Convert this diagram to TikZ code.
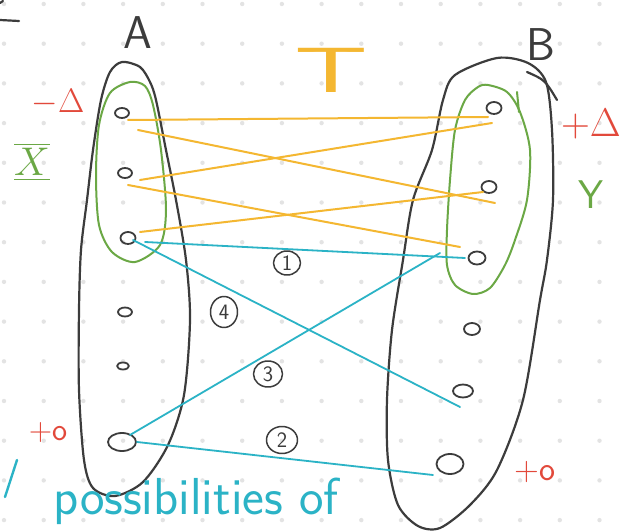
\RequirePackage{fix-cm}
\documentclass[tikz,border=0pt]{standalone}
\usepackage{amsmath}
\usetikzlibrary{shapes.geometric, calc}

\definecolor{inkblack}{HTML}{3C3C3C}
\definecolor{inkorange}{HTML}{F4B731}
\definecolor{inkcyan}{HTML}{2BB3C6}
\definecolor{inkgreen}{HTML}{6BA845}
\definecolor{inkred}{HTML}{E2493B}
\definecolor{griddot}{HTML}{E3E3E3}

\begin{document}
\begin{tikzpicture}[
    x=1pt, y=-1pt,
    line cap=round, line join=round,
    elem/.style   ={ellipse, draw=inkblack, line width=1.8pt, inner sep=0pt, minimum width=14pt, minimum height=10pt},
    num/.style    ={ellipse, draw=inkblack, line width=1.5pt, inner sep=0pt, text=inkblack, font=\sffamily\fontsize{22}{22}\selectfont},
    setline/.style={draw=inkblack, line width=2.2pt},
    subset/.style ={draw=inkgreen, line width=2pt},
    tmap/.style   ={draw=inkorange, line width=2pt},
    fmap/.style   ={draw=inkcyan, line width=1.8pt},
    setname/.style={text=inkblack, font=\sffamily\fontsize{46}{46}\selectfont},
    shiftlabel/.style={text=inkred, font=\sffamily\fontsize{34}{34}\selectfont},
    subname/.style={text=inkgreen, font=\sffamily\fontsize{40}{40}\selectfont},
]

%==================== PAGE AND DOT GRID ====================

\fill[white] (0,0) rectangle (622,532);
\useasboundingbox (0,0) rectangle (622,532);
\clip (0,0) rectangle (622,532);

\foreach \i in {0,...,15}
  \foreach \j in {0,...,13}
    \fill[griddot] (4+39.7*\i, 4+39.7*\j) circle (2.2);

% stray marks at the edges
\draw[setline] (0,20) -- (19,21);
\draw[setline] (0,3) -- (3,1);
\draw[fmap, line width=2.4pt] (17,460) -- (5,497);

%==================== SETS ====================

\draw[setline] plot[smooth cycle] coordinates {(122,62) (140,67) (150,82) (156,100) (166,150) (176,200) (186,260) (190,320) (184,395) (168,445) (143,482) (115,496) (93,488) (84,460) (79,390) (79,310) (81,250) (87,200) (93,150) (101,100) (110,72)};
\draw[setline] plot[smooth cycle] coordinates {(497,58) (528,63) (546,82) (552,130) (553,200) (547,260) (540,300) (523,400) (497,470) (470,505) (440,528) (418,526) (398,505) (388,460) (387,400) (392,330) (403,260) (413,200) (432,150) (443,100) (455,75)};
\draw[setline] (527,72) .. controls (545,80) .. (557,100);

% subsets
\draw[subset] plot[smooth cycle] coordinates {(130,82) (145,86) (153,105) (161,150) (166,210) (160,245) (135,262) (112,252) (99,225) (96,175) (99,125) (110,93)};
\draw[subset] plot[smooth cycle] coordinates {(488,85) (507,92) (520,112) (530,150) (527,200) (515,240) (505,265) (490,288) (473,294) (455,285) (447,265) (447,230) (450,180) (455,130) (465,100) (478,87)};
\draw[subset] (517,92) -- (519,112);

%==================== ELEMENTS ====================

\node[elem] (a1) at (122,113) {};
\node[elem] (a2) at (125,173) {};
\node[elem, minimum width=15pt, minimum height=12pt] (a3) at (128,238) {};
\node[elem, minimum height=9pt] (a4) at (125,312) {};
\node[elem, minimum width=12pt, minimum height=7pt] (a5) at (123,366) {};
\node[elem, minimum width=28pt, minimum height=18pt] (a6) at (122,442) {};

\node[elem, minimum width=15pt, minimum height=12pt] (b1) at (494,108) {};
\node[elem, minimum width=15pt, minimum height=12pt] (b2) at (489,187) {};
\node[elem, minimum width=17pt, minimum height=13pt] (b3) at (477,258) {};
\node[elem, minimum width=16pt, minimum height=12pt] (b4) at (472,329) {};
\node[elem, minimum width=20pt, minimum height=13pt] (b5) at (463,391) {};
\node[elem, minimum width=27pt, minimum height=20pt] (b6) at (450,464) {};

%==================== MAP T ====================

\draw[tmap] ($(a1)+(6,7)$)   -- ($(b1)+(-6,9)$);
\draw[tmap] ($(a1)+(16,17)$) -- ($(b2)+(6,16)$);
\draw[tmap] ($(a2)+(15,7)$)  -- ($(b1)+(-2,15)$);
\draw[tmap] ($(a2)+(3,12)$)  -- ($(b3)+(-17,-11)$);
\draw[tmap] ($(a3)+(12,-6)$) -- ($(b2)+(-6,5)$);

%==================== MAPS f ====================

\draw[fmap] ($(a3)+(17,4)$) -- ($(b3)+(-12,0)$);
\draw[fmap] ($(a3)+(5,2)$)  -- ($(b5)+(-3,16)$);
\draw[fmap] ($(a6)+(8,-7)$) -- ($(b3)+(-37,-5)$);
\draw[fmap] ($(a6)+(15,0)$) -- ($(b6)+(-17,11)$);

\node[num, minimum width=27pt, minimum height=24pt] (n1) at (287,263) {1};
\node[num, minimum width=31pt, minimum height=27pt] (n2) at (282,440) {2};
\node[num, minimum width=29pt, minimum height=26pt] (n3) at (268,374) {3};
\node[num, minimum width=27pt, minimum height=31pt] (n4) at (224,312) {4};

%==================== LABELS ====================

\node[setname] (nameA) at (138,33) {A};
\node[setname] (nameB) at (541,45) {B};
\node[text=inkorange, font=\sffamily\fontsize{64}{64}\selectfont, xscale=1.8] (nameT) at (331,70) {T};

\node[shiftlabel] (lowA) at (58,102) {$-\Delta$};
\node[shiftlabel, font=\sffamily\fontsize{40}{40}\selectfont] (highB) at (591,124) {$+\Delta$};
\node[shiftlabel, font=\sffamily\fontsize{32}{32}\selectfont] (zeroA) at (48,433) {+o};
\node[shiftlabel] (zeroB) at (535,472) {+o};

\node[subname] (nameX) at (32,162) {$\underline{\overline{X}}$};
\node[subname] (nameY) at (591,195) {Y};

\node[text=inkcyan, font=\sffamily\fontsize{52}{52}\selectfont, anchor=base west] (caption) at (50,514) {possibilities of};

\end{tikzpicture}
\end{document}
